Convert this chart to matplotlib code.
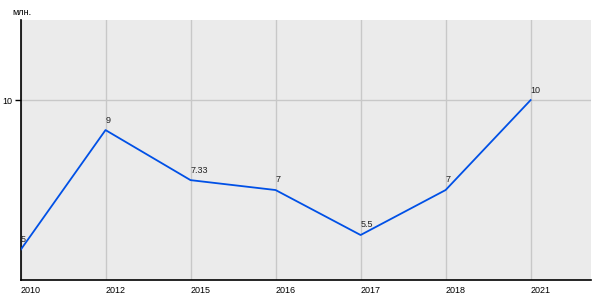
import matplotlib
matplotlib.use("Agg")
import matplotlib.pyplot as plt

years = ["2010", "2012", "2015", "2016", "2017", "2018", "2021"]
values = [5, 9, 7.33, 7, 5.5, 7, 10]
labels = ["5", "9", "7.33", "7", "5.5", "7", "10"]

plt.rcParams["font.family"] = ["Liberation Sans", "DejaVu Sans"]

fig = plt.figure(figsize=(6, 3), dpi=100)
ax = fig.add_axes([20.5 / 600, 20 / 300, 570.5 / 600, 260 / 300])
ax.set_facecolor("#ebebeb")

x = list(range(len(years)))
ax.plot(x, values, color="#0050e6", lw=1.3, zorder=3)
for xi, v, t in zip(x, values, labels):
    ax.annotate(t, (xi, v), xytext=(0, 4), textcoords="offset points",
                ha="left", va="bottom", fontsize=6.5, color="#222222", zorder=4)

ax.set_xlim(0, 6.71)
ax.set_ylim(4, 12.67)
ax.set_xticks(x)
ax.set_xticklabels(years, ha="left", fontsize=6.5)
ax.set_yticks([10])
ax.set_yticklabels(["10"], fontsize=6.5)
ax.tick_params(axis="x", length=0, pad=4)
ax.tick_params(axis="y", length=4, width=1, pad=2)
ax.grid(True, color="#c8c8c8", lw=1)
ax.set_axisbelow(True)

for s in ["top", "right"]:
    ax.spines[s].set_visible(False)
for s in ["left", "bottom"]:
    ax.spines[s].set_color("black")
    ax.spines[s].set_linewidth(1.2)

fig.text(12 / 600, 1 - 12.5 / 300, "млн.", fontsize=6.5, ha="left", va="center")

fig.savefig("out.png", dpi=100)
